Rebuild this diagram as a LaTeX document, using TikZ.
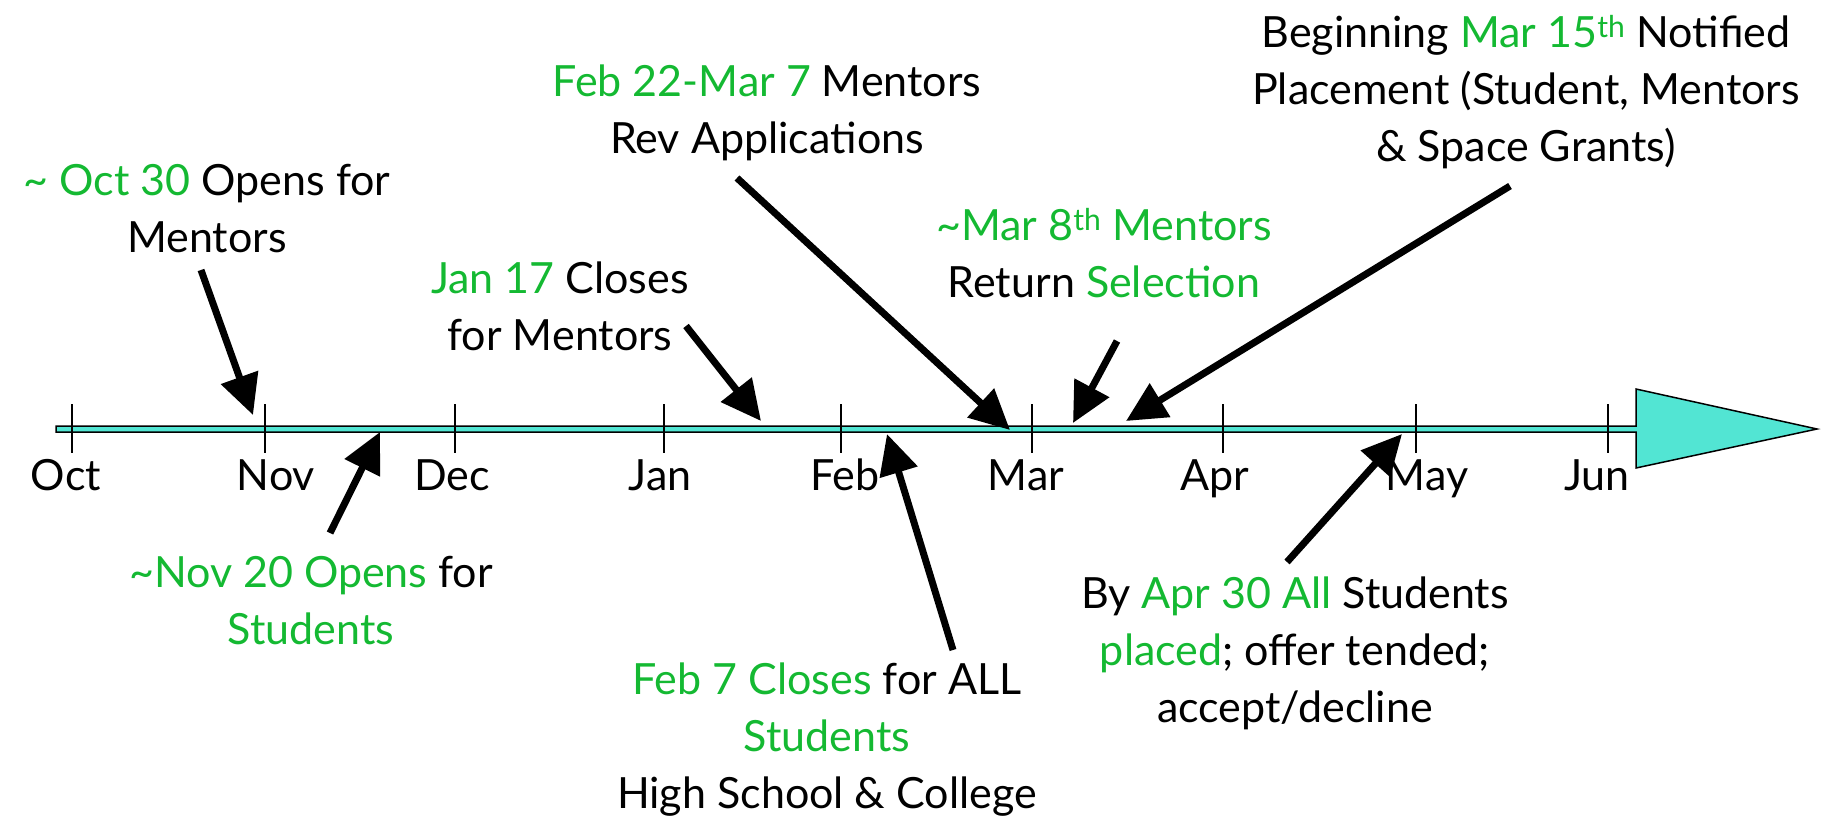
\documentclass[tikz,border=0pt]{standalone}
\usepackage{fontspec}
\setmainfont{Lato}
\usetikzlibrary{arrows.meta}
\definecolor{grn}{RGB}{20,185,50}
\definecolor{aqua}{RGB}{82,229,211}
\begin{document}
\begin{tikzpicture}[x=1pt,y=-1pt,
  lbl/.style={align=center, anchor=base, inner sep=0pt, font=\fontsize{43}{57}\selectfont},
  mon/.style={anchor=base, inner sep=0pt, font=\fontsize{43}{50}\selectfont},
  tickline/.style={line width=1.5pt},
  ptr/.style={line width=7pt, -{Triangle[length=40pt,width=38pt]}}]
\useasboundingbox (0,0) rectangle (1826,827);
% timeline arrow
\draw[fill=aqua, line width=1.5pt, line join=miter] (56,426) -- (1636,426) -- (1636,389) -- (1817,429)
  -- (1636,468) -- (1636,432) -- (56,432) -- cycle;
% ticks
\foreach \x in {72,265,455,664,841,1032,1223,1416,1608}
  \draw[tickline] (\x,404) -- (\x,453);
% months
\node[mon] (oct) at (66,490) {Oct};
\node[mon] (nov) at (276,490) {Nov};
\node[mon] (dec) at (452,490) {Dec};
\node[mon] (jan) at (660,490) {Jan};
\node[mon] (feb) at (845,490) {Feb};
\node[mon] (mar) at (1026,490) {Mar};
\node[mon] (apr) at (1215,490) {Apr};
\node[mon] (may) at (1427,490) {May};
\node[mon] (jun) at (1597,490) {Jun};
% labels (anchor = baseline of last line)
\node[lbl] (oct30) at (207,252) {\textcolor{grn}{\textasciitilde\ Oct 30} Opens for\\Mentors};
\node[lbl] (jan17) at (560,350) {\textcolor{grn}{Jan 17} Closes\\for Mentors};
\node[lbl] (feb22) at (767,153) {\textcolor{grn}{Feb 22-Mar 7} Mentors\\Rev Applications};
\node[lbl] (mar8) at (1104,297) {\textcolor{grn}{\textasciitilde Mar 8\textsuperscript{th} Mentors}\\Return \textcolor{grn}{Selection}};
\node[lbl] (mar15) at (1526,161) {Beginning \textcolor{grn}{Mar 15\textsuperscript{th}} Notified\\Placement (Student, Mentors\\\& Space Grants)};
\node[lbl] (nov20) at (311,644) {\textcolor{grn}{\textasciitilde Nov 20 Opens} for\\\textcolor{grn}{Students}};
\node[lbl] (feb7) at (827,808) {\textcolor{grn}{Feb 7 Closes} for ALL\\\textcolor{grn}{Students}\\High School \& College};
\node[lbl] (apr30) at (1295,722) {By \textcolor{grn}{Apr 30 All} Students\\\textcolor{grn}{placed}; offer tended;\\accept/decline};
% arrow end points
\coordinate (s1) at (201,270); \coordinate (e1) at (253,415);
\coordinate (s2) at (330,533); \coordinate (e2) at (380,432);
\coordinate (s3) at (686,326); \coordinate (e3) at (761,421);
\coordinate (s4) at (953,650); \coordinate (e4) at (887,434);
\coordinate (s5) at (737,178); \coordinate (e5) at (1010,430);
\coordinate (s6) at (1117,341); \coordinate (e6) at (1073,423);
\coordinate (s7) at (1510,186); \coordinate (e7) at (1126,421);
\coordinate (s8) at (1287,562); \coordinate (e8) at (1402,434);
\foreach \i in {1,...,8} \draw[ptr] (s\i) -- (e\i);
\end{tikzpicture}
\end{document}
